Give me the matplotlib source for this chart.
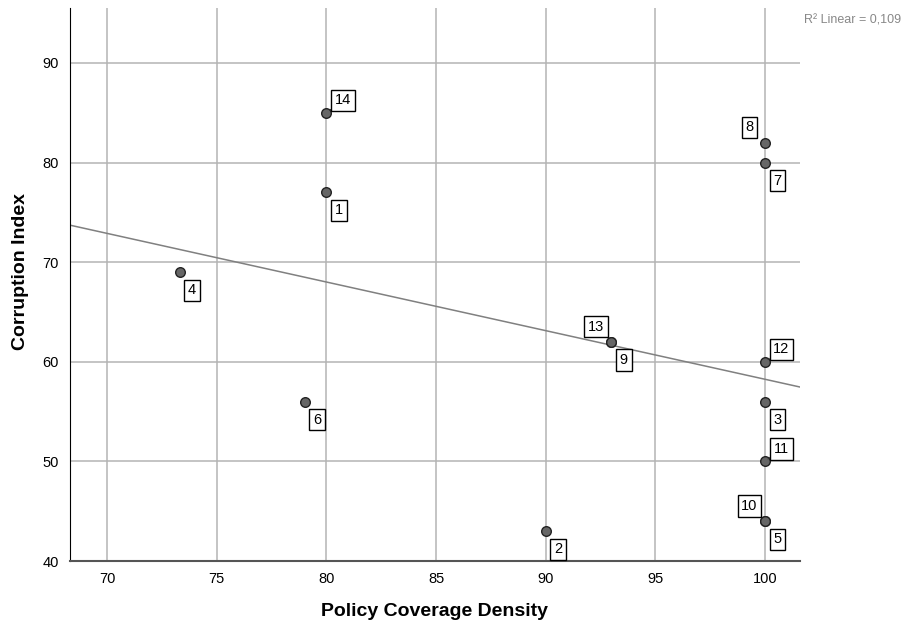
import numpy as np
import matplotlib
matplotlib.use("Agg")
import matplotlib.pyplot as plt

plt.rcParams["font.family"] = ["Liberation Sans", "DejaVu Sans"]

# case numbers, policy coverage density, corruption index
case_ids = [1, 2, 3, 4, 5, 6, 7, 8, 9, 10, 11, 12, 13, 14]
coverage = [80, 90, 100, 73.3, 100, 79, 100, 100, 93, 100, 100, 100, 93, 80]
corruption = [77, 43, 56, 69, 44, 56, 80, 82, 62, 44, 50, 60, 62, 85]
# where each case label sits relative to its point
label_side = ["br", "br", "br", "br", "br", "br", "br", "al", "br", "al", "ar", "ar", "al", "ar"]
r2_text = "R\u00b2 Linear = 0,109"

fig = plt.figure(figsize=(9.13, 6.26), dpi=100)
ax = fig.add_axes([0.0767, 0.1038, 0.7993, 0.8832])

ax.set_xlim(68.3, 101.6)
ax.set_ylim(40, 95.5)
ax.set_xticks([70, 75, 80, 85, 90, 95, 100])
ax.set_yticks([40, 50, 60, 70, 80, 90])
ax.grid(True, color="#b4b4b4", linewidth=1.1)
ax.set_axisbelow(True)
for s in ["top", "right"]:
    ax.spines[s].set_visible(False)
ax.spines["left"].set_color("black")
ax.spines["bottom"].set_color("#555555")
ax.spines["bottom"].set_linewidth(1.5)
ax.tick_params(length=0, labelsize=10.5, pad=8)

# linear fit
slope, icpt = np.polyfit(coverage, corruption, 1)
xs = np.array(ax.get_xlim())
ax.plot(xs, slope * xs + icpt, color="#808080", linewidth=1.1, zorder=2)

ax.scatter(coverage, corruption, s=48, color="#666666", edgecolors="#222222",
           linewidths=1.0, zorder=3)

offsets = {"br": (9, -13), "ar": (12, 9), "al": (-11, 11)}
for cid, xv, yv, side in zip(case_ids, coverage, corruption, label_side):
    dx, dy = offsets[side]
    ax.annotate(str(cid), (xv, yv), xytext=(dx, dy), textcoords="offset points",
                ha="center", va="center", fontsize=10.5, zorder=4,
                bbox=dict(boxstyle="square,pad=0.25", fc="white", ec="black", lw=1.0),
                arrowprops=dict(arrowstyle="-", color="#333333", lw=0.8,
                                shrinkA=0, shrinkB=3) if side == "ar" else None)

ax.set_xlabel("Policy Coverage Density", fontsize=14, fontweight="bold", va="center")
ax.set_ylabel("Corruption Index", fontsize=14, fontweight="bold", va="center")
ax.xaxis.set_label_coords(0.499, -0.092)
ax.yaxis.set_label_coords(-0.068, 0.524)

fig.text(0.987, 0.967, r2_text, ha="right", va="center", fontsize=9, color="#888888")

fig.savefig("out.png", dpi=100)
